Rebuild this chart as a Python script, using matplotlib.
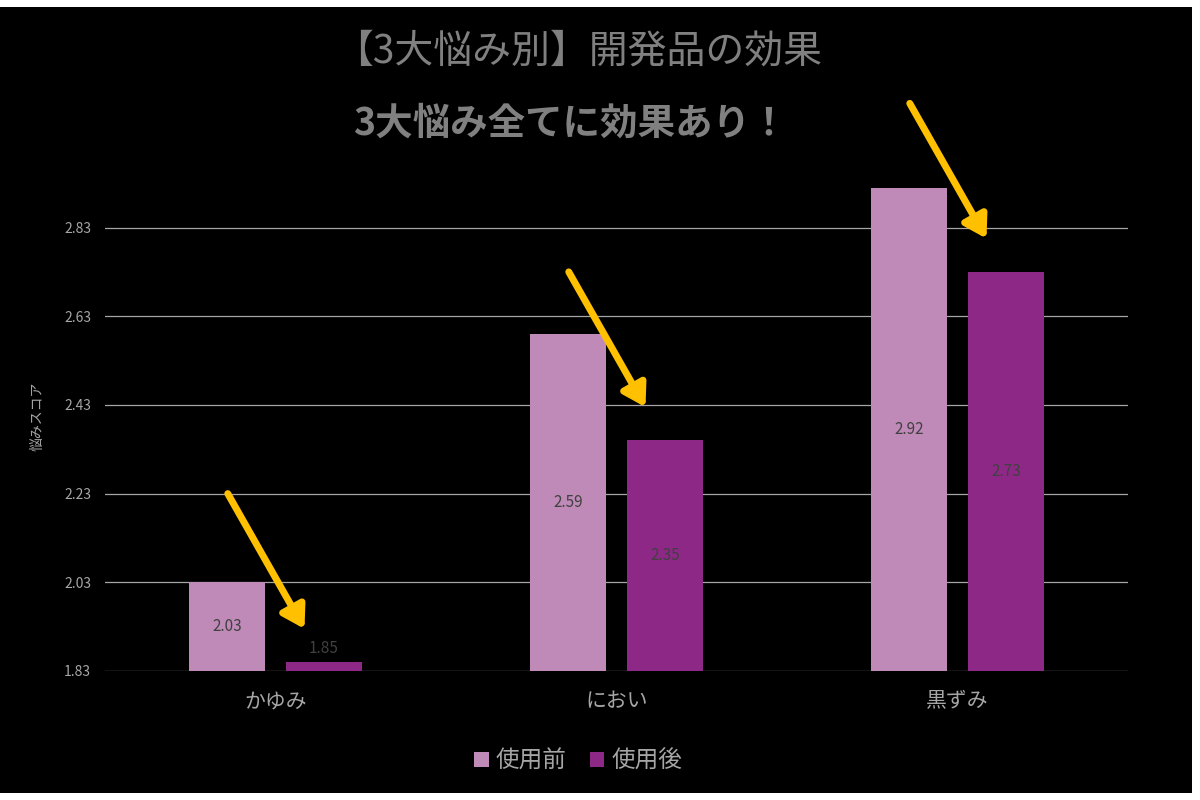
import matplotlib
matplotlib.use("Agg")
import matplotlib.pyplot as plt
from matplotlib.patches import Rectangle
import numpy as np

plt.rcParams["font.family"] = "Noto Sans CJK JP"

categories = ["かゆみ", "におい", "黒ずみ"]
before = [2.03, 2.59, 2.92]
after = [1.85, 2.35, 2.73]
yticks = [1.83, 2.03, 2.23, 2.43, 2.63, 2.83]
series_names = ["使用前", "使用後"]

fig = plt.figure(figsize=(12, 8), dpi=100, facecolor="white")
fig.patches.append(Rectangle((0, 7/800), 1192/1200, 786/800, transform=fig.transFigure,
                             facecolor="black", edgecolor="none", zorder=-10))
ax = fig.add_axes([105/1200, 129/800, 1023/1200, 510/800])
ax.set_facecolor("black")
x = np.arange(len(categories))
w, off = 0.223, 0.142
c1, c2 = "#c08ab8", "#8e2887"
b1 = ax.bar(x - off, before, w, color=c1, zorder=3, label=series_names[0])
b2 = ax.bar(x + off, after, w, color=c2, zorder=3, label=series_names[1])
ax.set_ylim(1.83, 2.98)
ax.set_xlim(-0.5, 2.5)
ax.set_yticks(yticks)
ax.set_yticklabels([f"{t:.2f}" for t in yticks], color="#a6a6a6", fontsize=10)
ax.set_xticks(x)
ax.set_xticklabels(categories, color="#a6a6a6", fontsize=15)
ax.tick_params(length=0, pad=10)
ax.tick_params(axis="x", pad=14)
ax.grid(axis="y", color="#a6a6a6", linewidth=0.9, zorder=1)
for s in ax.spines.values():
    s.set_visible(False)
ax.set_ylabel("悩みスコア", color="#a6a6a6", fontsize=10, labelpad=14)

for i in range(len(categories)):
    ax.text(x[i] - off, (before[i] + 1.83) / 2, f"{before[i]:.2f}", ha="center", va="center",
            color="#404040", fontsize=11, zorder=4)
    ymid = (after[i] + 1.83) / 2 if after[i] - 1.83 > 0.1 else after[i] + 0.03
    ax.text(x[i] + off, ymid, f"{after[i]:.2f}", ha="center", va="center",
            color="#404040", fontsize=11, zorder=4)
    ax.annotate("", xy=(x[i] + 0.085, after[i] + 0.075), xytext=(x[i] - 0.14, after[i] + 0.38),
                arrowprops=dict(arrowstyle="-|>,head_width=0.8,head_length=1.3", color="#ffc000",
                                lw=5, shrinkA=0, shrinkB=0),
                annotation_clip=False, zorder=5)

fig.text(0.482, 0.935, "【3大悩み別】開発品の効果", ha="center", va="center", color="#808080", fontsize=28)
fig.text(0.475, 0.846, "3大悩み全てに効果あり！", ha="center", va="center", color="#808080",
         fontsize=27, fontweight="bold")
leg = fig.legend(handles=[b1, b2], loc="center", bbox_to_anchor=(0.482, 0.048), ncol=2, frameon=False,
                 fontsize=17, handlelength=0.6, handleheight=0.6, handletextpad=0.3, columnspacing=1.0)
for t in leg.get_texts():
    t.set_color("#a6a6a6")
fig.savefig("out.png", dpi=100, facecolor="white")
